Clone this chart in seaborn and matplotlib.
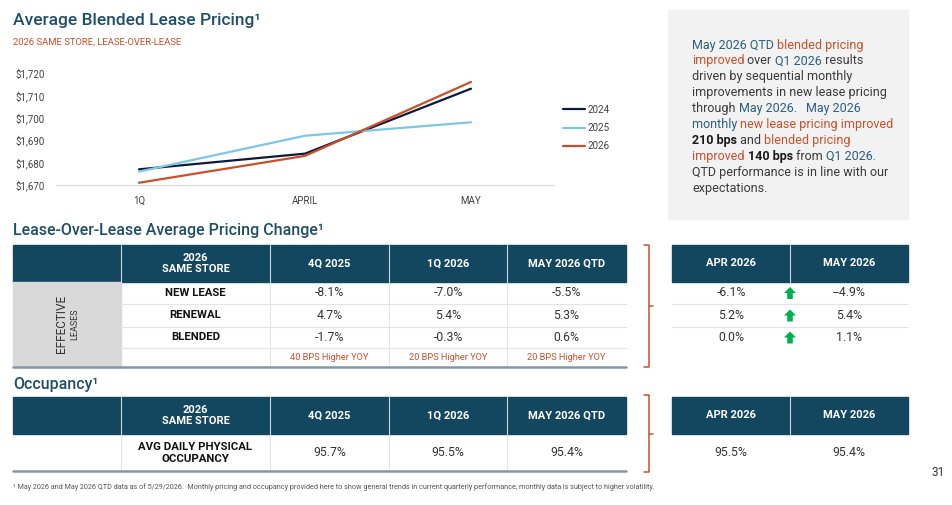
import pandas as pd
import seaborn as sns
import matplotlib.pyplot as plt
from matplotlib.patches import Rectangle
from matplotlib.ticker import FuncFormatter

# chart data
months = ["1Q", "APRIL", "MAY"]
years = ["2024", "2025", "2026"]
price_2024 = [1677, 1684, 1713]
price_2025 = [1676, 1692, 1698]
price_2026 = [1671, 1683, 1716]

# pricing change table
pricing_cols = ["4Q 2025", "1Q 2026", "MAY 2026 QTD"]
pricing_rows = ["NEW LEASE", "RENEWAL", "BLENDED"]
new_lease = ["-8.1%", "-7.0%", "-5.5%"]
renewal = ["4.7%", "5.4%", "5.3%"]
blended = ["-1.7%", "-0.3%", "0.6%"]
yoy_notes = ["40 BPS Higher YOY", "20 BPS Higher YOY", "20 BPS Higher YOY"]
monthly_cols = ["APR 2026", "MAY 2026"]
monthly_new = ["-6.1%", "--4.9%"]
monthly_renewal = ["5.2%", "5.4%"]
monthly_blended = ["0.0%", "1.1%"]

# occupancy table
occ_label = "AVG DAILY PHYSICAL\nOCCUPANCY"
occupancy = ["95.7%", "95.5%", "95.4%"]
occupancy_monthly = ["95.5%", "95.4%"]

TEAL = "#1f4e66"
ORANGE = "#c9502a"
NAVY = "#134760"
FONT = ["Roboto", "DejaVu Sans"]

sns.set_style("white")
plt.rcParams["font.family"] = FONT

fig = plt.figure(figsize=(9.52, 5.05), dpi=100)
W, H = 952, 505


def fx(px):
    return px / W


def fy(py):
    return 1 - py / H


# ---- line chart ----
df = pd.DataFrame({
    "month": months * 3,
    "year": [y for y in years for _ in months],
    "price": price_2024 + price_2025 + price_2026,
})
ax = fig.add_axes([fx(56), fy(185), fx(554) - fx(56), fy(73) - fy(185)])
sns.lineplot(data=df, x="month", y="price", hue="year", ax=ax,
             palette={"2024": "#0d1a3a", "2025": "#7cc6e6", "2026": "#c9502a"},
             linewidth=1.6, sort=False)
ax.set_xlim(-0.5, 2.5)
ax.set_ylim(1670, 1720)
ax.set_yticks(range(1670, 1721, 10))
ax.yaxis.set_major_formatter(FuncFormatter(lambda v, p: f"${v:,.0f}"))
ax.set_xlabel("")
ax.set_ylabel("")
for s in ["top", "right", "left"]:
    ax.spines[s].set_visible(False)
ax.spines["bottom"].set_color("#d9d9d9")
ax.tick_params(axis="both", length=0, colors="#404040")
ax.tick_params(axis="y", labelsize=7, pad=8)
ax.tick_params(axis="x", labelsize=7, pad=8)
ax.patch.set_visible(False)
ax.legend(loc="center left", bbox_to_anchor=(fx(563), fy(128)),
          bbox_transform=fig.transFigure, frameon=False, fontsize=7,
          handlelength=2.3, handletextpad=0.2, labelspacing=0.85,
          borderaxespad=0, borderpad=0)
for t in ax.get_legend().get_texts():
    t.set_color("#404040")

# ---- overlay in pixel coordinates ----
ov = fig.add_axes([0, 0, 1, 1])
ov.set_xlim(0, W)
ov.set_ylim(H, 0)
ov.axis("off")
ov.patch.set_visible(False)

ov.text(13, 20, "Average Blended Lease Pricing¹", fontsize=12.5, color=TEAL,
        fontweight="medium", va="center")
ov.text(13, 42, "2026 SAME STORE, LEASE-OVER-LEASE", fontsize=6.8,
        color=ORANGE, va="center")

# commentary box
ov.add_patch(Rectangle((668, 10), 240, 209, color="#f2f2f2", zorder=0))
renderer = fig.canvas.get_renderer()


def seg_width(s, **kw):
    a = ov.text(0, 0, "|" + s + "|", **kw)
    b = ov.text(0, 0, "||", **kw)
    w = a.get_window_extent(renderer).width - b.get_window_extent(renderer).width
    a.remove()
    b.remove()
    return w


box_lines = [
    [("May 2026 QTD ", "t"), ("blended pricing", "o")],
    [("improved", "o"), (" over ", "g"), ("Q1 2026", "t"), (" results", "g")],
    [("driven by sequential monthly", "g")],
    [("improvements in new lease pricing", "g")],
    [("through ", "g"), ("May 2026.", "t"), ("   ", "g"), ("May 2026", "t")],
    [("monthly ", "t"), ("new lease pricing improved", "o")],
    [("210 bps", "b"), (" and ", "g"), ("blended pricing", "o")],
    [("improved ", "o"), ("140 bps", "b"), (" from ", "g"), ("Q1 2026.", "t")],
    [("QTD performance is in line with our", "g")],
    [("expectations.", "g")],
]
styles = {
    "t": dict(color="#2b5f7d"),
    "o": dict(color=ORANGE),
    "g": dict(color="#3a3a3a"),
    "b": dict(color="#1a1a1a", fontweight="bold"),
}
for i, line in enumerate(box_lines):
    x = 692
    y = 45 + i * 15.9
    for s, k in line:
        kw = dict(fontsize=9, **styles[k])
        ov.text(x, y, s, va="center", ha="left", **kw)
        x += seg_width(s, **kw)

# ---- pricing change table ----
ov.text(13, 231, "Lease-Over-Lease Average Pricing Change¹", fontsize=11.5,
        color=TEAL, fontweight="medium", va="center")
cols = [13, 121, 270, 389, 507, 626]
centers = [(cols[i] + cols[i + 1]) / 2 for i in range(len(cols) - 1)]
LIGHT = "#e4e4e4"
VAL = dict(fontsize=8.8, color="#333333", ha="center", va="center")
LAB = dict(fontsize=8.2, fontweight="bold", color="#111111", ha="center",
           va="center")


def header(y0, y1):
    ov.add_patch(Rectangle((13, y0), 613, y1 - y0, color=NAVY, zorder=1))
    for c in cols[1:-1]:
        ov.plot([c, c], [y0, y1], color="#c8d6df", lw=0.8, zorder=2)
    ym = (y0 + y1) / 2
    ov.text(centers[1], ym, "2026\nSAME STORE", color="white", fontsize=8,
            fontweight="bold", ha="center", va="center", linespacing=1.15)
    for c, lab in zip(centers[2:], pricing_cols):
        ov.text(c, ym, lab, color="white", fontsize=8, fontweight="bold",
                ha="center", va="center")


def right_header(y0, y1):
    ov.add_patch(Rectangle((672, y0), 236, y1 - y0, color=NAVY, zorder=1))
    ov.plot([790, 790], [y0, y1], color="#c8d6df", lw=0.8, zorder=2)
    for c, lab in zip([731, 849], monthly_cols):
        ov.text(c, (y0 + y1) / 2, lab, color="white", fontsize=8,
                fontweight="bold", ha="center", va="center")


def bracket(y0, y1):
    ym = (y0 + y1) / 2
    ov.plot([644, 649, 649, 644], [y0, y0, y1, y1], color=ORANGE, lw=1.1)
    ov.plot([649, 653], [ym, ym], color=ORANGE, lw=1.1)


def up_arrow(cx, cy):
    xs = [cx, cx + 6, cx + 2.8, cx + 2.8, cx - 2.8, cx - 2.8, cx - 6]
    ys = [cy - 6, cy, cy, cy + 6, cy + 6, cy, cy]
    ov.fill(xs, ys, color="#00b050", lw=0, zorder=3)


header(245, 282)
ov.add_patch(Rectangle((13, 282), 108, 85, color="#d9d9d9", zorder=1))
ov.text(62, 324, "EFFECTIVE", rotation=90, fontsize=8.5, color="#333333",
        ha="center", va="center")
ov.text(75, 324, "LEASES", rotation=90, fontsize=6.5, color="#333333",
        ha="center", va="center")
row_lines = [282, 304, 327, 348, 367]
for y in row_lines[1:-1]:
    ov.plot([121, 626], [y, y], color=LIGHT, lw=0.8, zorder=1)
for c in cols[2:-1]:
    ov.plot([c, c], [282, 367], color=LIGHT, lw=0.8, zorder=1)
ov.plot([13, 626], [367, 367], color="#8497a6", lw=1.8, zorder=2)

row_vals = [new_lease, renewal, blended]
month_vals = [monthly_new, monthly_renewal, monthly_blended]
for i, (lab, vals, mvals) in enumerate(zip(pricing_rows, row_vals, month_vals)):
    y = (row_lines[i] + row_lines[i + 1]) / 2
    ov.text(centers[1], y, lab, **LAB)
    for c, v in zip(centers[2:], vals):
        ov.text(c, y, v, **VAL)
    ov.text(731, y, mvals[0], **VAL)
    ov.text(849, y, mvals[1], **VAL)
    up_arrow(790, y)
for c, note in zip(centers[2:], yoy_notes):
    ov.text(c, 358, note, fontsize=6.7, color=ORANGE, ha="center", va="center")

right_header(245, 282)
for y in [304, 327]:
    ov.plot([672, 908], [y, y], color=LIGHT, lw=0.8, zorder=1)
bracket(245, 367)

# ---- occupancy table ----
ov.text(13, 384, "Occupancy¹", fontsize=11.5, color=TEAL,
        fontweight="medium", va="center")
header(397, 434)
for c in cols[1:-1]:
    ov.plot([c, c], [434, 471], color=LIGHT, lw=0.8, zorder=1)
ov.plot([13, 626], [471, 471], color="#8497a6", lw=1.8, zorder=2)
ov.text(centers[1], 453, occ_label, linespacing=1.3, **LAB)
for c, v in zip(centers[2:], occupancy):
    ov.text(c, 453, v, **VAL)
right_header(397, 434)
for c, v in zip([731, 849], occupancy_monthly):
    ov.text(c, 453, v, **VAL)
bracket(395, 472)

ov.text(938, 473, "31", fontsize=8.5, color="#333333", ha="center", va="center")
ov.text(13, 487, "¹ May 2026 and May 2026 QTD data as of 5/29/2026.  Monthly pricing "
        "and occupancy provided here to show general trends in current quarterly "
        "performance, monthly data is subject to higher volatility.",
        fontsize=5.25, color="#555555", va="center")

fig.savefig("out.png", dpi=100)
